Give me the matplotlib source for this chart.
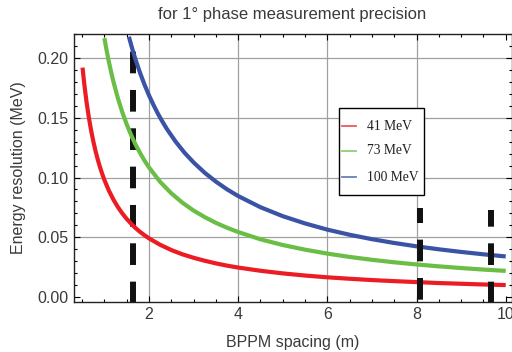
import matplotlib
matplotlib.use("Agg")
import matplotlib.pyplot as plt
from matplotlib.ticker import MultipleLocator, FormatStrFormatter
from matplotlib.patches import Rectangle
from matplotlib.lines import Line2D

plt.rcParams['font.family'] = ['Liberation Sans', 'DejaVu Sans']
plt.rcParams['lines.scale_dashes'] = False

# ---- data ----
labels = ["41 MeV", "73 MeV", "100 MeV"]
colors = ["#ec1c24", "#6abd45", "#3a53a4"]

x_41 = [0.51, 0.55, 0.6, 0.65, 0.7, 0.75, 0.8, 0.85, 0.9, 0.95, 1.0, 1.1, 1.2,
        1.3, 1.4, 1.5, 1.6, 1.7, 1.8, 1.9, 2.0, 2.25, 2.5, 2.75, 3.0, 3.25,
        3.5, 3.75, 4.0, 4.5, 5.0, 5.5, 6.0, 6.5, 7.0, 7.5, 8.0, 8.5, 9.0, 9.5,
        10.0]
y_41 = [0.1922, 0.1782, 0.1633, 0.1508, 0.1400, 0.1307, 0.1225, 0.1153,
        0.1089, 0.1032, 0.0980, 0.0891, 0.0817, 0.0754, 0.0700, 0.0653,
        0.0613, 0.0576, 0.0544, 0.0516, 0.0490, 0.0436, 0.0392, 0.0356,
        0.0327, 0.0302, 0.0280, 0.0261, 0.0245, 0.0218, 0.0196, 0.0178,
        0.0163, 0.0151, 0.0140, 0.0131, 0.0123, 0.0115, 0.0109, 0.0103, 0.0098]

x_73 = [1.0, 1.05, 1.1, 1.15, 1.2, 1.3, 1.4, 1.5, 1.6, 1.7, 1.8, 1.9, 2.0,
        2.25, 2.5, 2.75, 3.0, 3.25, 3.5, 3.75, 4.0, 4.5, 5.0, 5.5, 6.0, 6.5,
        7.0, 7.5, 8.0, 8.5, 9.0, 9.5, 10.0]
y_73 = [0.2170, 0.2067, 0.1973, 0.1887, 0.1808, 0.1669, 0.1550, 0.1447,
        0.1356, 0.1276, 0.1206, 0.1142, 0.1085, 0.0964, 0.0868, 0.0789,
        0.0723, 0.0668, 0.0620, 0.0579, 0.0543, 0.0482, 0.0434, 0.0395,
        0.0362, 0.0334, 0.0310, 0.0289, 0.0271, 0.0255, 0.0241, 0.0228, 0.0217]

x_100 = [1.55, 1.6, 1.65, 1.7, 1.8, 1.9, 2.0, 2.1, 2.2, 2.3, 2.4, 2.6, 2.8,
         3.0, 3.25, 3.5, 3.75, 4.0, 4.5, 5.0, 5.5, 6.0, 6.5, 7.0, 7.5, 8.0,
         8.5, 9.0, 9.5, 10.0]
y_100 = [0.2181, 0.2113, 0.2048, 0.1988, 0.1878, 0.1779, 0.1690, 0.1610,
         0.1536, 0.1470, 0.1408, 0.1300, 0.1207, 0.1127, 0.1040, 0.0966,
         0.0901, 0.0845, 0.0751, 0.0676, 0.0615, 0.0563, 0.0520, 0.0483,
         0.0451, 0.0423, 0.0398, 0.0376, 0.0356, 0.0338]

# BPPM positions (dashed markers)
bppm_x = [1.65, 8.08, 9.67]
bppm_top = [0.2204, 0.0742, 0.0727]

title = "for 1° phase measurement precision"
xlabel = "BPPM spacing (m)"
ylabel = "Energy resolution (MeV)"
grid_x = [2, 4, 6, 8]
grid_y = [0.05, 0.10, 0.15, 0.20]

W, H = 512, 352
fig = plt.figure(figsize=(W / 100, H / 100), dpi=100)
ax = fig.add_axes([73.7 / W, 1 - 302 / H, (511.5 - 73.7) / W, (302 - 34) / H])

xmin, xmax = 0.312, 10.13
ymin, ymax = -0.0044, 0.2204
ax.set_xlim(xmin, xmax)
ax.set_ylim(ymin, ymax)

for gx in grid_x:
    ax.axvline(gx, color="#a0a0a0", lw=0.9, zorder=1)
for gy in grid_y:
    ax.axhline(gy, color="#a0a0a0", lw=0.9, zorder=1)

# dashed BPPM markers
offsets = [14.9, 4.8, 3.6]
for i, (bx, bt) in enumerate(zip(bppm_x, bppm_top)):
    ax.plot([bx, bx], [bt, ymin], color="#111111", lw=4.3,
            linestyle=(offsets[i], (15.6, 12.0)), solid_capstyle='butt',
            dash_capstyle='butt', zorder=2 if i == 0 else 4)

for xs, ys, c in zip([x_41, x_73, x_100], [y_41, y_73, y_100], colors):
    ax.plot(xs, ys, color=c, lw=3.0, zorder=3, solid_capstyle='butt',
            solid_joinstyle='round')

ax.xaxis.set_major_locator(MultipleLocator(2))
ax.xaxis.set_minor_locator(MultipleLocator(0.5))
ax.yaxis.set_major_locator(MultipleLocator(0.05))
ax.yaxis.set_minor_locator(MultipleLocator(0.01))
ax.yaxis.set_major_formatter(FormatStrFormatter('%.2f'))
ax.tick_params(which='both', direction='in', top=True, right=True,
               colors='black', labelcolor='#3a3a3a', labelsize=11.5, width=0.8)
ax.tick_params(which='major', length=4, pad=3.5)
ax.tick_params(which='minor', length=2.5)
for s in ax.spines.values():
    s.set_linewidth(1.0)
    s.set_color('#222222')

ax.set_xlabel(xlabel, fontsize=11.5, color='#3a3a3a')
ax.set_ylabel(ylabel, fontsize=11.5, color='#3a3a3a')
ax.xaxis.set_label_coords(0.5, -0.122)
ax.yaxis.set_label_coords(-0.108, 0.5)
ax.text(0.5, 1.071, title, transform=ax.transAxes, ha='center', va='center',
        fontsize=12, color='#3a3a3a')

# legend box drawn in figure pixels
def fx(px):
    return px / W

def fy(py):
    return 1 - py / H

fig.add_artist(Rectangle((fx(339.3), fy(195)), fx(424) - fx(339.3), fy(108.3) - fy(195),
                         transform=fig.transFigure, facecolor='white',
                         edgecolor='black', lw=1.0, zorder=10))
rows = [126, 151, 177.3]
for lab, c, ry in zip(labels, colors, rows):
    fig.add_artist(Line2D([fx(341.7), fx(356)], [fy(ry), fy(ry)], color=c, lw=1.3,
                          alpha=0.75, transform=fig.transFigure, zorder=11))
    fig.text(fx(367), fy(ry), lab, ha='left', va='center', fontsize=9.8,
             family=['Liberation Serif', 'DejaVu Serif'], color='#222222', zorder=11)

fig.savefig("out.png", dpi=100)
